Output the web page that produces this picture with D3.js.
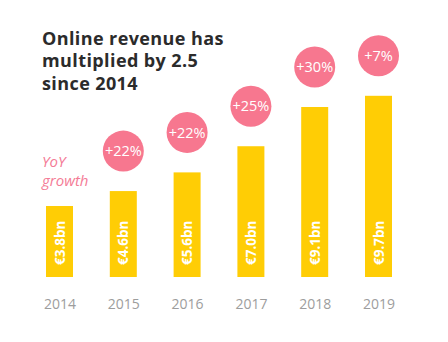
<!DOCTYPE html>
<html>
<head>
<meta charset="utf-8">
<script src="https://cdn.jsdelivr.net/npm/d3@7"></script>
<style>
  html, body { margin: 0; padding: 0; background: #fff; }
  svg { display: block; }
</style>
</head>
<body>
<svg id="chart" width="448" height="342"></svg>
<script>
const years = ['2014', '2015', '2016', '2017', '2018', '2019'];
const revenue = [3.8, 4.6, 5.6, 7.0, 9.1, 9.7];
const revenueLabels = ['€3.8bn', '€4.6bn', '€5.6bn', '€7.0bn', '€9.1bn', '€9.7bn'];
const growth = [null, '+22%', '+22%', '+25%', '+30%', '+7%'];
const titleLines = ['Online revenue has', 'multiplied by 2.5', 'since 2014'];
const growthNote = ['YoY', 'growth'];

const svg = d3.select('#chart');
const baseY = 277;
const barWidth = 27;

const x = d3.scalePoint()
    .domain(years)
    .range([59.5, 378.5]);

const y = d3.scaleLinear()
    .domain([0, 10])
    .range([baseY, baseY - 186.8]);

const rows = years.map((yr, i) => ({ year: yr, value: revenue[i], label: revenueLabels[i], growth: growth[i] }));

// title
svg.append('text')
    .attr('x', 42)
    .attr('y', 44.5)
    .style('font-family', '"Open Sans", sans-serif')
    .style('font-weight', 700)
    .style('font-size', '18px')
    .style('letter-spacing', '0.4px')
    .style('fill', '#2b2b2b')
    .selectAll('tspan')
    .data(titleLines)
    .enter().append('tspan')
    .attr('x', 42)
    .attr('dy', (d, i) => i === 0 ? 0 : 22.5)
    .text(d => d);

// "YoY growth" note
svg.append('text')
    .attr('x', 42)
    .attr('y', 167)
    .style('font-family', '"Open Sans", sans-serif')
    .style('font-style', 'italic')
    .style('font-size', '15px')
    .style('fill', '#f47b96')
    .selectAll('tspan')
    .data(growthNote)
    .enter().append('tspan')
    .attr('x', 42)
    .attr('dy', (d, i) => i === 0 ? 0 : 19)
    .text(d => d);

// bars
svg.selectAll('.bar')
    .data(rows)
    .enter().append('rect')
    .attr('class', 'bar')
    .attr('x', d => x(d.year) - barWidth / 2)
    .attr('y', d => y(d.value))
    .attr('width', barWidth)
    .attr('height', d => baseY - y(d.value))
    .attr('fill', '#ffcd05');

// value labels inside bars
svg.selectAll('.val')
    .data(rows)
    .enter().append('text')
    .attr('class', 'val')
    .attr('transform', d => `translate(${x(d.year) + 5},${baseY - 12}) rotate(-90)`)
    .style('font-family', '"Open Sans", sans-serif')
    .style('font-weight', 700)
    .style('font-size', '13.5px')
    .style('fill', '#fff')
    .text(d => d.label);

// growth bubbles
const bubbles = svg.selectAll('.bubble')
    .data(rows.filter(d => d.growth))
    .enter().append('g')
    .attr('class', 'bubble')
    .attr('transform', d => `translate(${x(d.year)},${y(d.value) - 40})`);

bubbles.append('circle')
    .attr('r', 20.5)
    .attr('fill', '#f7778f');

bubbles.append('text')
    .attr('text-anchor', 'middle')
    .attr('dy', '0.36em')
    .style('font-family', '"Open Sans", sans-serif')
    .style('font-size', '14.5px')
    .style('fill', '#fff')
    .text(d => d.growth);

// x axis labels
const xAxis = svg.append('g')
    .attr('transform', `translate(0,${baseY + 18})`)
    .call(d3.axisBottom(x).tickSize(0).tickPadding(0));
xAxis.select('.domain').remove();
xAxis.selectAll('text')
    .attr('dy', '0')
    .attr('y', 14)
    .style('font-family', '"Open Sans", sans-serif')
    .style('font-size', '14px')
    .style('fill', '#9d9d9d');
</script>
</body>
</html>
